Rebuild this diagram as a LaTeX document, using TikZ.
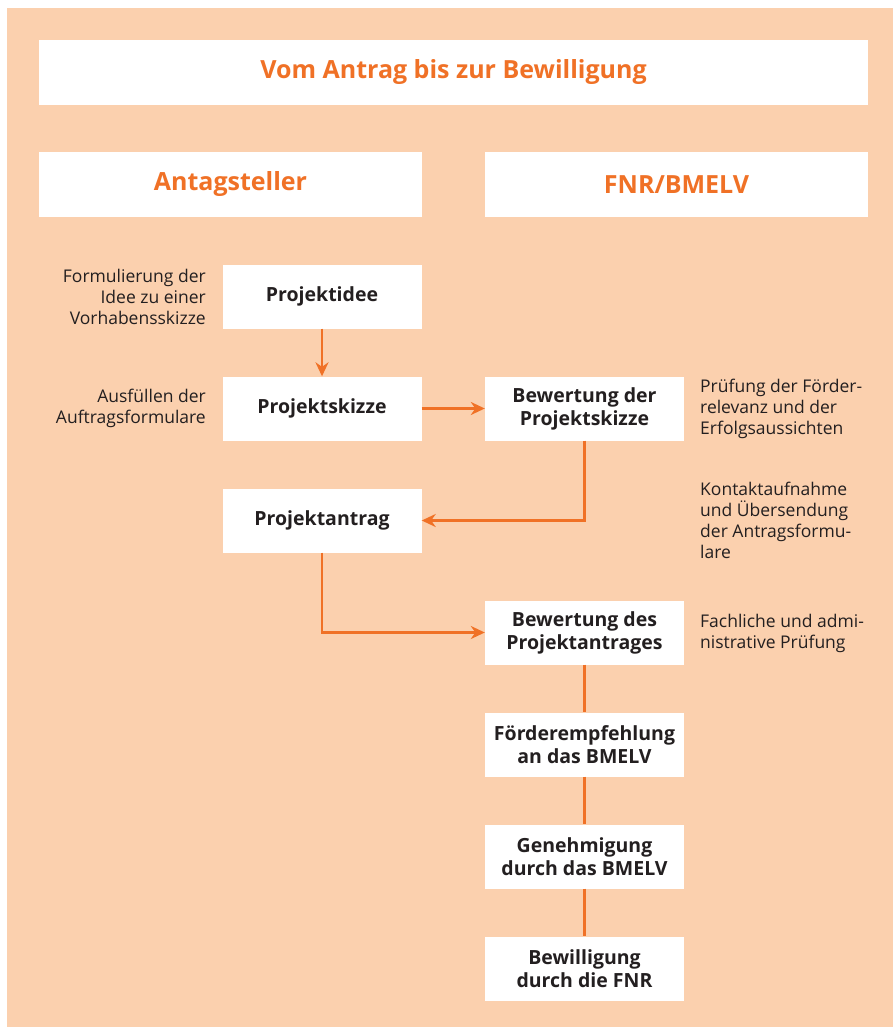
\documentclass[tikz,border=0pt]{standalone}
\usepackage{fontspec}
\setmainfont{Open Sans}
\usetikzlibrary{arrows.meta}
\definecolor{peach}{RGB}{251,208,174}
\definecolor{fnrorange}{RGB}{240,113,38}
\definecolor{ink}{RGB}{35,31,32}
\begin{document}
\begin{tikzpicture}[x=1pt,y=-1pt,
  stepbox/.style={rectangle,fill=white,minimum width=199pt,minimum height=64pt,inner sep=0pt,
    align=center,text=ink,font=\fontsize{19.5}{23}\selectfont\bfseries},
  headbox/.style={rectangle,fill=white,minimum width=383pt,minimum height=64pt,inner sep=0pt,
    text=fnrorange,font=\fontsize{25}{28}\selectfont\bfseries},
  notel/.style={anchor=east,align=right,inner sep=0pt,text=ink,font=\fontsize{17.5}{21}\selectfont},
  noter/.style={anchor=west,align=left,inner sep=0pt,text=ink,font=\fontsize{17.5}{21}\selectfont},
  flow/.style={draw=fnrorange,line width=2.6pt},
  arr/.style={flow,-{Stealth[length=14pt,width=13pt]}}]
\useasboundingbox (0,0) rectangle (893,1027);
\fill[white] (0,0) rectangle (893,1027);
\fill[peach] (7,8) rectangle (893,1027);
\node[headbox,minimum width=829pt,minimum height=65pt] (title) at (453.5,72.5) {Vom Antrag bis zur Bewilligung};
\node[headbox] (hleft) at (230.5,184.5) {Antagsteller};
\node[headbox] (hright) at (676.5,184.5) {FNR/BMELV};
\node[stepbox] (idee) at (322,296.5) {Projektidee};
\node[stepbox] (skizze) at (322,408.5) {Projektskizze};
\node[stepbox] (bskizze) at (584.5,408.5) {Bewertung der\\Projektskizze};
\node[stepbox] (antrag) at (322,520.5) {Projektantrag};
\node[stepbox] (bantrag) at (584.5,632.5) {Bewertung des\\Projektantrages};
\node[stepbox] (foerder) at (584.5,744.5) {Förderempfehlung\\an das BMELV};
\node[stepbox] (genehm) at (584.5,856.5) {Genehmigung\\durch das BMELV};
\node[stepbox] (bewill) at (584.5,968.5) {Bewilligung\\durch die FNR};
\node[notel] (n1) at (206,296.5) {Formulierung der\\Idee zu einer\\Vorhabensskizze};
\node[notel] (n2) at (206,408.5) {Ausfüllen der\\Auftragsformulare};
\node[noter] (n3) at (700,409) {Prüfung der Förder-\\relevanz und der\\Erfolgsaussichten};
\node[noter] (n4) at (700,520.5) {Kontaktaufnahme\\und Übersendung\\der Antragsformu-\\lare};
\node[noter] (n5) at (700,633.5) {Fachliche und admi-\\nistrative Prüfung};
\draw[arr] (idee) -- (skizze);
\draw[arr] (skizze) -- (bskizze);
\draw[arr] (bskizze.south) |- (antrag.east);
\draw[arr] (antrag.south) |- (bantrag.west);
\draw[flow] (bantrag) -- (foerder);
\draw[flow] (foerder) -- (genehm);
\draw[flow] (genehm) -- (bewill);
\end{tikzpicture}
\end{document}
